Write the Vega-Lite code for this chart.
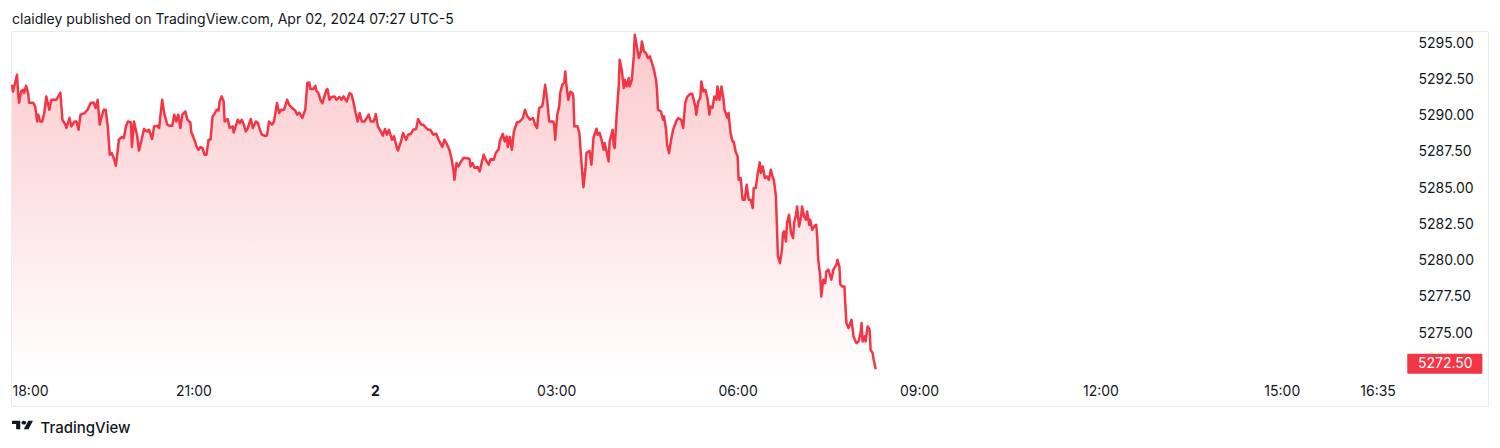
{
  "$schema": "https://vega.github.io/schema/vega-lite/v6.json",
  "width": 1477,
  "height": 375,
  "autosize": {"type": "none"},
  "padding": {"left": 11, "top": 31, "right": 12, "bottom": 42},
  "background": "white",
  "title": {"text": "claidley published on TradingView.com, Apr 02, 2024 07:27 UTC-5", "anchor": "start", "frame": "group", "offset": 8, "baseline": "alphabetic", "dy": 15, "font": "Inter", "fontSize": 14, "fontWeight": "normal", "color": "#131722", "dx": 1},
  "config": {
    "view": {"stroke": "#E8EBF0", "strokeWidth": 1},
    "axis": {"labelFont": "Inter", "labelFontSize": 14, "labelColor": "#131722", "grid": false, "domain": false, "ticks": false}
  },
  "datasets": {
    "es": [
      {"minute":0,"price":5292.12},{"minute":1,"price":5291.66},{"minute":3,"price":5292.24},{"minute":5,"price":5292.81},{"minute":6,"price":5291.55},{"minute":7,"price":5290.88},{"minute":9,"price":5291.66},{"minute":11,"price":5291.78},{"minute":12,"price":5291.55},{"minute":14,"price":5292.05},{"minute":16,"price":5291.55},{"minute":17,"price":5290.88},{"minute":21,"price":5290.88},{"minute":23,"price":5290.63},{"minute":25,"price":5289.59},{"minute":26,"price":5290.06},{"minute":28,"price":5289.59},{"minute":30,"price":5289.59},{"minute":32,"price":5290.17},{"minute":34,"price":5291.32},{"minute":37,"price":5290.40},{"minute":39,"price":5291.09},{"minute":44,"price":5291.09},{"minute":48,"price":5291.59},{"minute":50,"price":5289.71},{"minute":53,"price":5289.37},{"minute":54,"price":5289.14},{"minute":57,"price":5289.83},{"minute":59,"price":5289.25},{"minute":62,"price":5289.59},{"minute":64,"price":5289.59},{"minute":66,"price":5289.02},{"minute":68,"price":5290.06},{"minute":72,"price":5290.17},{"minute":75,"price":5290.40},{"minute":78,"price":5290.86},{"minute":81,"price":5290.90},{"minute":83,"price":5290.52},{"minute":85,"price":5291.09},{"minute":87,"price":5289.37},{"minute":89,"price":5289.94},{"minute":91,"price":5290.40},{"minute":93,"price":5290.40},{"minute":95,"price":5289.25},{"minute":97,"price":5287.30},{"minute":99,"price":5287.41},{"minute":101,"price":5287.07},{"minute":103,"price":5286.54},{"minute":105,"price":5287.64},{"minute":106,"price":5288.33},{"minute":109,"price":5288.52},{"minute":111,"price":5288.45},{"minute":113,"price":5289.25},{"minute":115,"price":5289.59},{"minute":118,"price":5289.52},{"minute":119,"price":5287.83},{"minute":121,"price":5289.59},{"minute":124,"price":5288.68},{"minute":126,"price":5287.59},{"minute":129,"price":5288.45},{"minute":131,"price":5289.07},{"minute":134,"price":5288.90},{"minute":136,"price":5289.02},{"minute":139,"price":5288.38},{"minute":141,"price":5289.25},{"minute":144,"price":5289.30},{"minute":146,"price":5289.14},{"minute":149,"price":5291.09},{"minute":151,"price":5290.17},{"minute":154,"price":5289.37},{"minute":156,"price":5289.30},{"minute":159,"price":5289.30},{"minute":161,"price":5290.06},{"minute":163,"price":5289.59},{"minute":165,"price":5290.06},{"minute":167,"price":5289.14},{"minute":169,"price":5290.06},{"minute":172,"price":5290.28},{"minute":174,"price":5289.71},{"minute":177,"price":5289.52},{"minute":178,"price":5288.83},{"minute":181,"price":5288.33},{"minute":183,"price":5287.87},{"minute":185,"price":5287.64},{"minute":187,"price":5287.83},{"minute":189,"price":5287.76},{"minute":191,"price":5287.30},{"minute":193,"price":5287.30},{"minute":195,"price":5288.33},{"minute":197,"price":5288.33},{"minute":199,"price":5289.94},{"minute":201,"price":5290.12},{"minute":203,"price":5290.40},{"minute":205,"price":5290.35},{"minute":206,"price":5290.97},{"minute":208,"price":5291.32},{"minute":210,"price":5290.97},{"minute":211,"price":5289.59},{"minute":214,"price":5289.76},{"minute":216,"price":5289.14},{"minute":219,"price":5289.25},{"minute":220,"price":5288.83},{"minute":224,"price":5289.71},{"minute":226,"price":5289.48},{"minute":228,"price":5289.71},{"minute":230,"price":5289.37},{"minute":232,"price":5288.90},{"minute":234,"price":5289.14},{"minute":237,"price":5289.76},{"minute":239,"price":5289.14},{"minute":242,"price":5289.59},{"minute":244,"price":5289.48},{"minute":246,"price":5289.02},{"minute":248,"price":5288.68},{"minute":251,"price":5288.61},{"minute":253,"price":5288.61},{"minute":255,"price":5289.59},{"minute":258,"price":5289.37},{"minute":260,"price":5289.59},{"minute":263,"price":5290.86},{"minute":265,"price":5290.17},{"minute":267,"price":5290.40},{"minute":270,"price":5290.40},{"minute":273,"price":5291.09},{"minute":275,"price":5290.74},{"minute":278,"price":5290.52},{"minute":281,"price":5290.35},{"minute":283,"price":5290.06},{"minute":285,"price":5290.21},{"minute":288,"price":5289.83},{"minute":291,"price":5290.40},{"minute":293,"price":5292.24},{"minute":295,"price":5292.28},{"minute":296,"price":5291.83},{"minute":299,"price":5291.83},{"minute":301,"price":5292.05},{"minute":302,"price":5291.73},{"minute":304,"price":5291.55},{"minute":306,"price":5291.09},{"minute":308,"price":5290.86},{"minute":310,"price":5291.32},{"minute":312,"price":5291.78},{"minute":313,"price":5291.83},{"minute":315,"price":5291.09},{"minute":317,"price":5291.28},{"minute":320,"price":5291.32},{"minute":322,"price":5291.09},{"minute":325,"price":5291.28},{"minute":327,"price":5291.09},{"minute":329,"price":5291.32},{"minute":332,"price":5290.97},{"minute":335,"price":5291.55},{"minute":337,"price":5291.43},{"minute":339,"price":5290.86},{"minute":341,"price":5290.17},{"minute":343,"price":5289.59},{"minute":345,"price":5290.17},{"minute":347,"price":5289.59},{"minute":350,"price":5289.59},{"minute":354,"price":5290.06},{"minute":356,"price":5289.59},{"minute":359,"price":5289.59},{"minute":361,"price":5290.10},{"minute":363,"price":5289.25},{"minute":366,"price":5288.90},{"minute":368,"price":5288.61},{"minute":370,"price":5289.07},{"minute":372,"price":5288.68},{"minute":374,"price":5289.02},{"minute":377,"price":5288.33},{"minute":379,"price":5288.56},{"minute":382,"price":5287.76},{"minute":383,"price":5287.59},{"minute":386,"price":5288.21},{"minute":388,"price":5288.79},{"minute":391,"price":5288.33},{"minute":393,"price":5288.68},{"minute":396,"price":5288.74},{"minute":398,"price":5289.02},{"minute":401,"price":5289.07},{"minute":403,"price":5289.76},{"minute":406,"price":5289.37},{"minute":408,"price":5289.37},{"minute":411,"price":5289.14},{"minute":413,"price":5289.02},{"minute":415,"price":5289.02},{"minute":418,"price":5288.68},{"minute":421,"price":5288.74},{"minute":423,"price":5288.38},{"minute":425,"price":5288.10},{"minute":427,"price":5287.83},{"minute":429,"price":5288.33},{"minute":431,"price":5288.10},{"minute":434,"price":5287.64},{"minute":436,"price":5287.07},{"minute":438,"price":5286.26},{"minute":439,"price":5285.57},{"minute":441,"price":5286.72},{"minute":443,"price":5286.49},{"minute":445,"price":5286.77},{"minute":448,"price":5287.07},{"minute":451,"price":5287.07},{"minute":454,"price":5287.00},{"minute":455,"price":5286.49},{"minute":457,"price":5286.72},{"minute":459,"price":5286.38},{"minute":462,"price":5286.45},{"minute":464,"price":5286.15},{"minute":466,"price":5286.72},{"minute":468,"price":5287.30},{"minute":470,"price":5286.95},{"minute":473,"price":5286.61},{"minute":475,"price":5287.00},{"minute":478,"price":5286.95},{"minute":480,"price":5287.41},{"minute":483,"price":5287.69},{"minute":484,"price":5288.21},{"minute":487,"price":5288.74},{"minute":489,"price":5288.21},{"minute":491,"price":5288.56},{"minute":492,"price":5287.83},{"minute":494,"price":5288.52},{"minute":496,"price":5287.64},{"minute":498,"price":5288.90},{"minute":501,"price":5289.52},{"minute":504,"price":5289.59},{"minute":507,"price":5289.83},{"minute":509,"price":5290.40},{"minute":511,"price":5289.99},{"minute":514,"price":5289.71},{"minute":517,"price":5289.83},{"minute":519,"price":5289.37},{"minute":521,"price":5289.14},{"minute":523,"price":5290.52},{"minute":526,"price":5290.63},{"minute":527,"price":5290.97},{"minute":529,"price":5292.12},{"minute":531,"price":5291.09},{"minute":533,"price":5289.59},{"minute":537,"price":5289.59},{"minute":538,"price":5289.37},{"minute":539,"price":5288.33},{"minute":541,"price":5290.06},{"minute":543,"price":5290.63},{"minute":544,"price":5291.55},{"minute":546,"price":5292.12},{"minute":548,"price":5292.28},{"minute":549,"price":5293.04},{"minute":550,"price":5292.19},{"minute":552,"price":5291.09},{"minute":554,"price":5291.64},{"minute":556,"price":5291.57},{"minute":557,"price":5291.32},{"minute":558,"price":5289.25},{"minute":561,"price":5289.27},{"minute":563,"price":5288.79},{"minute":565,"price":5286.81},{"minute":567,"price":5285.06},{"minute":569,"price":5286.33},{"minute":570,"price":5287.41},{"minute":573,"price":5287.57},{"minute":575,"price":5286.61},{"minute":577,"price":5288.47},{"minute":580,"price":5289.09},{"minute":581,"price":5288.68},{"minute":583,"price":5288.81},{"minute":585,"price":5288.33},{"minute":587,"price":5287.64},{"minute":588,"price":5288.10},{"minute":590,"price":5287.52},{"minute":592,"price":5286.83},{"minute":593,"price":5288.21},{"minute":596,"price":5289.02},{"minute":597,"price":5287.99},{"minute":598,"price":5287.76},{"minute":600,"price":5290.06},{"minute":602,"price":5292.01},{"minute":603,"price":5293.85},{"minute":605,"price":5293.16},{"minute":607,"price":5291.90},{"minute":608,"price":5292.47},{"minute":610,"price":5292.01},{"minute":612,"price":5292.59},{"minute":613,"price":5292.01},{"minute":615,"price":5292.47},{"minute":617,"price":5294.08},{"minute":618,"price":5295.57},{"minute":620,"price":5294.77},{"minute":622,"price":5293.97},{"minute":624,"price":5294.42},{"minute":625,"price":5295.11},{"minute":627,"price":5294.42},{"minute":629,"price":5294.31},{"minute":631,"price":5293.97},{"minute":633,"price":5294.08},{"minute":635,"price":5293.62},{"minute":637,"price":5293.16},{"minute":639,"price":5292.47},{"minute":640,"price":5291.78},{"minute":641,"price":5290.40},{"minute":644,"price":5290.28},{"minute":646,"price":5289.71},{"minute":647,"price":5289.94},{"minute":649,"price":5289.02},{"minute":650,"price":5287.99},{"minute":652,"price":5287.41},{"minute":654,"price":5288.33},{"minute":656,"price":5289.02},{"minute":659,"price":5289.59},{"minute":661,"price":5289.83},{"minute":664,"price":5289.71},{"minute":666,"price":5289.14},{"minute":668,"price":5290.86},{"minute":670,"price":5291.28},{"minute":673,"price":5291.50},{"minute":675,"price":5291.50},{"minute":678,"price":5290.63},{"minute":679,"price":5290.06},{"minute":681,"price":5290.97},{"minute":683,"price":5291.21},{"minute":684,"price":5292.35},{"minute":686,"price":5291.66},{"minute":688,"price":5291.78},{"minute":690,"price":5291.21},{"minute":692,"price":5290.06},{"minute":693,"price":5290.63},{"minute":695,"price":5290.52},{"minute":697,"price":5291.32},{"minute":699,"price":5291.09},{"minute":700,"price":5292.01},{"minute":702,"price":5291.09},{"minute":704,"price":5292.01},{"minute":706,"price":5291.09},{"minute":707,"price":5290.40},{"minute":710,"price":5289.83},{"minute":711,"price":5290.17},{"minute":713,"price":5288.79},{"minute":715,"price":5288.21},{"minute":716,"price":5288.21},{"minute":718,"price":5287.52},{"minute":720,"price":5287.18},{"minute":721,"price":5285.57},{"minute":723,"price":5285.69},{"minute":725,"price":5284.19},{"minute":727,"price":5284.19},{"minute":729,"price":5285.23},{"minute":731,"price":5284.19},{"minute":733,"price":5284.19},{"minute":735,"price":5283.62},{"minute":736,"price":5285.00},{"minute":738,"price":5285.00},{"minute":740,"price":5286.03},{"minute":742,"price":5286.77},{"minute":743,"price":5286.03},{"minute":745,"price":5286.49},{"minute":747,"price":5285.69},{"minute":749,"price":5285.80},{"minute":751,"price":5285.57},{"minute":753,"price":5286.26},{"minute":755,"price":5285.69},{"minute":756,"price":5285.57},{"minute":758,"price":5284.42},{"minute":759,"price":5282.35},{"minute":760,"price":5280.28},{"minute":762,"price":5279.83},{"minute":764,"price":5280.74},{"minute":765,"price":5281.89},{"minute":766,"price":5282.01},{"minute":768,"price":5281.32},{"minute":769,"price":5282.59},{"minute":771,"price":5283.16},{"minute":773,"price":5281.89},{"minute":775,"price":5281.55},{"minute":776,"price":5282.59},{"minute":778,"price":5283.16},{"minute":779,"price":5283.73},{"minute":781,"price":5282.35},{"minute":783,"price":5283.04},{"minute":784,"price":5283.73},{"minute":786,"price":5283.04},{"minute":788,"price":5282.81},{"minute":789,"price":5283.39},{"minute":791,"price":5282.47},{"minute":792,"price":5282.81},{"minute":794,"price":5282.12},{"minute":796,"price":5282.35},{"minute":798,"price":5282.47},{"minute":799,"price":5281.66},{"minute":800,"price":5280.06},{"minute":802,"price":5278.90},{"minute":803,"price":5277.52},{"minute":805,"price":5278.68},{"minute":807,"price":5278.45},{"minute":808,"price":5279.25},{"minute":810,"price":5279.37},{"minute":812,"price":5278.90},{"minute":813,"price":5278.68},{"minute":815,"price":5279.37},{"minute":818,"price":5279.71},{"minute":819,"price":5280.06},{"minute":821,"price":5279.59},{"minute":822,"price":5278.33},{"minute":824,"price":5278.21},{"minute":826,"price":5278.21},{"minute":827,"price":5276.83},{"minute":828,"price":5275.69},{"minute":830,"price":5275.34},{"minute":832,"price":5275.69},{"minute":833,"price":5275.92},{"minute":835,"price":5274.77},{"minute":837,"price":5274.42},{"minute":838,"price":5274.31},{"minute":840,"price":5274.42},{"minute":842,"price":5275.00},{"minute":843,"price":5275.69},{"minute":844,"price":5274.42},{"minute":846,"price":5274.77},{"minute":847,"price":5274.42},{"minute":849,"price":5275.46},{"minute":851,"price":5275.23},{"minute":852,"price":5273.85},{"minute":854,"price":5273.62},{"minute":855,"price":5273.16},{"minute":857,"price":5272.50}
    ],
    "last": [{"label": "5272.50"}]
  },
  "layer": [
    {
      "data": {"name": "es"},
      "mark": {"type": "area", "fill": {"gradient": "linear", "x1": 0, "y1": 0, "x2": 0, "y2": 1, "stops": [{"offset": 0, "color": "rgba(242,54,69,0.27)"}, {"offset": 1, "color": "rgba(242,54,69,0.0)"}]}, "strokeWidth": 0},
      "encoding": {
        "x": {"field": "minute", "type": "quantitative", "scale": {"domain": [-1, 1464.6], "nice": false, "zero": false},
          "axis": {"values": [0, 180, 360, 540, 720, 900, 1080, 1260, 1355], "offset": -31, "labelPadding": 16, "labelBaseline": "middle", "labelFlush": 5, "labelOverlap": false,
            "labelExpr": "datum.value == 360 ? '2' : pad('' + ((18 + floor(datum.value / 60)) % 24), 2, '0', 'left') + ':' + pad('' + (datum.value % 60), 2, '0', 'left')",
            "labelFontWeight": {"condition": {"test": "datum.value == 360", "value": "bold"}, "value": "normal"},
            "title": "TradingView", "titleX": 29, "titleY": 52, "titleAlign": "left", "titleBaseline": "middle", "titleFont": "Inter", "titleFontSize": 15, "titleFontWeight": 500, "titleColor": "#131722", "titleAnchor": "start"}},
        "y": {"field": "price", "type": "quantitative", "scale": {"domain": [5269.97, 5295.83], "nice": false, "zero": false},
          "axis": {"orient": "right", "values": [5275, 5277.5, 5280, 5282.5, 5285, 5287.5, 5290, 5292.5, 5295], "format": ".2f", "offset": -83, "labelPadding": 13, "labelAlign": "left", "labelBaseline": "middle", "labelOverlap": false, "title": null}},
        "y2": {"datum": 5272.1}
      }
    },
    {
      "data": {"name": "es"},
      "mark": {"type": "line", "color": "#F23645", "strokeWidth": 2.5, "strokeJoin": "round"},
      "encoding": {
        "x": {"field": "minute", "type": "quantitative"},
        "y": {"field": "price", "type": "quantitative"}
      }
    },
    {
      "data": {"name": "last"},
      "mark": {"type": "rect", "color": "#F23645", "cornerRadius": 1},
      "encoding": {
        "x": {"datum": 1384.5}, "x2": {"datum": 1459},
        "y": {"datum": 5273.57}, "y2": {"datum": 5272.19}
      }
    },
    {
      "data": {"name": "last"},
      "mark": {"type": "text", "color": "white", "font": "Inter", "fontSize": 14, "align": "left", "baseline": "middle"},
      "encoding": {
        "x": {"datum": 1395.1},
        "y": {"datum": 5272.88},
        "text": {"field": "label"}
      }
    },
    {
      "data": {"name": "last"},
      "mark": {"type": "point", "filled": true, "color": "#131722", "opacity": 1, "size": 441, "strokeWidth": 0,
        "shape": "M-0.211,0.406L-0.606,0.406L-0.606,-0.09L-1,-0.09L-1,-0.406L-0.211,-0.406ZM0.577,0.406L0.127,0.406L0.549,-0.406L1,-0.406ZM0.352,-0.225A0.225,0.18,0,1,1,-0.098,-0.225A0.225,0.18,0,1,1,0.352,-0.225Z"},
      "encoding": {
        "x": {"datum": 10.4},
        "y": {"datum": 5268.66}
      }
    }
  ]
}
